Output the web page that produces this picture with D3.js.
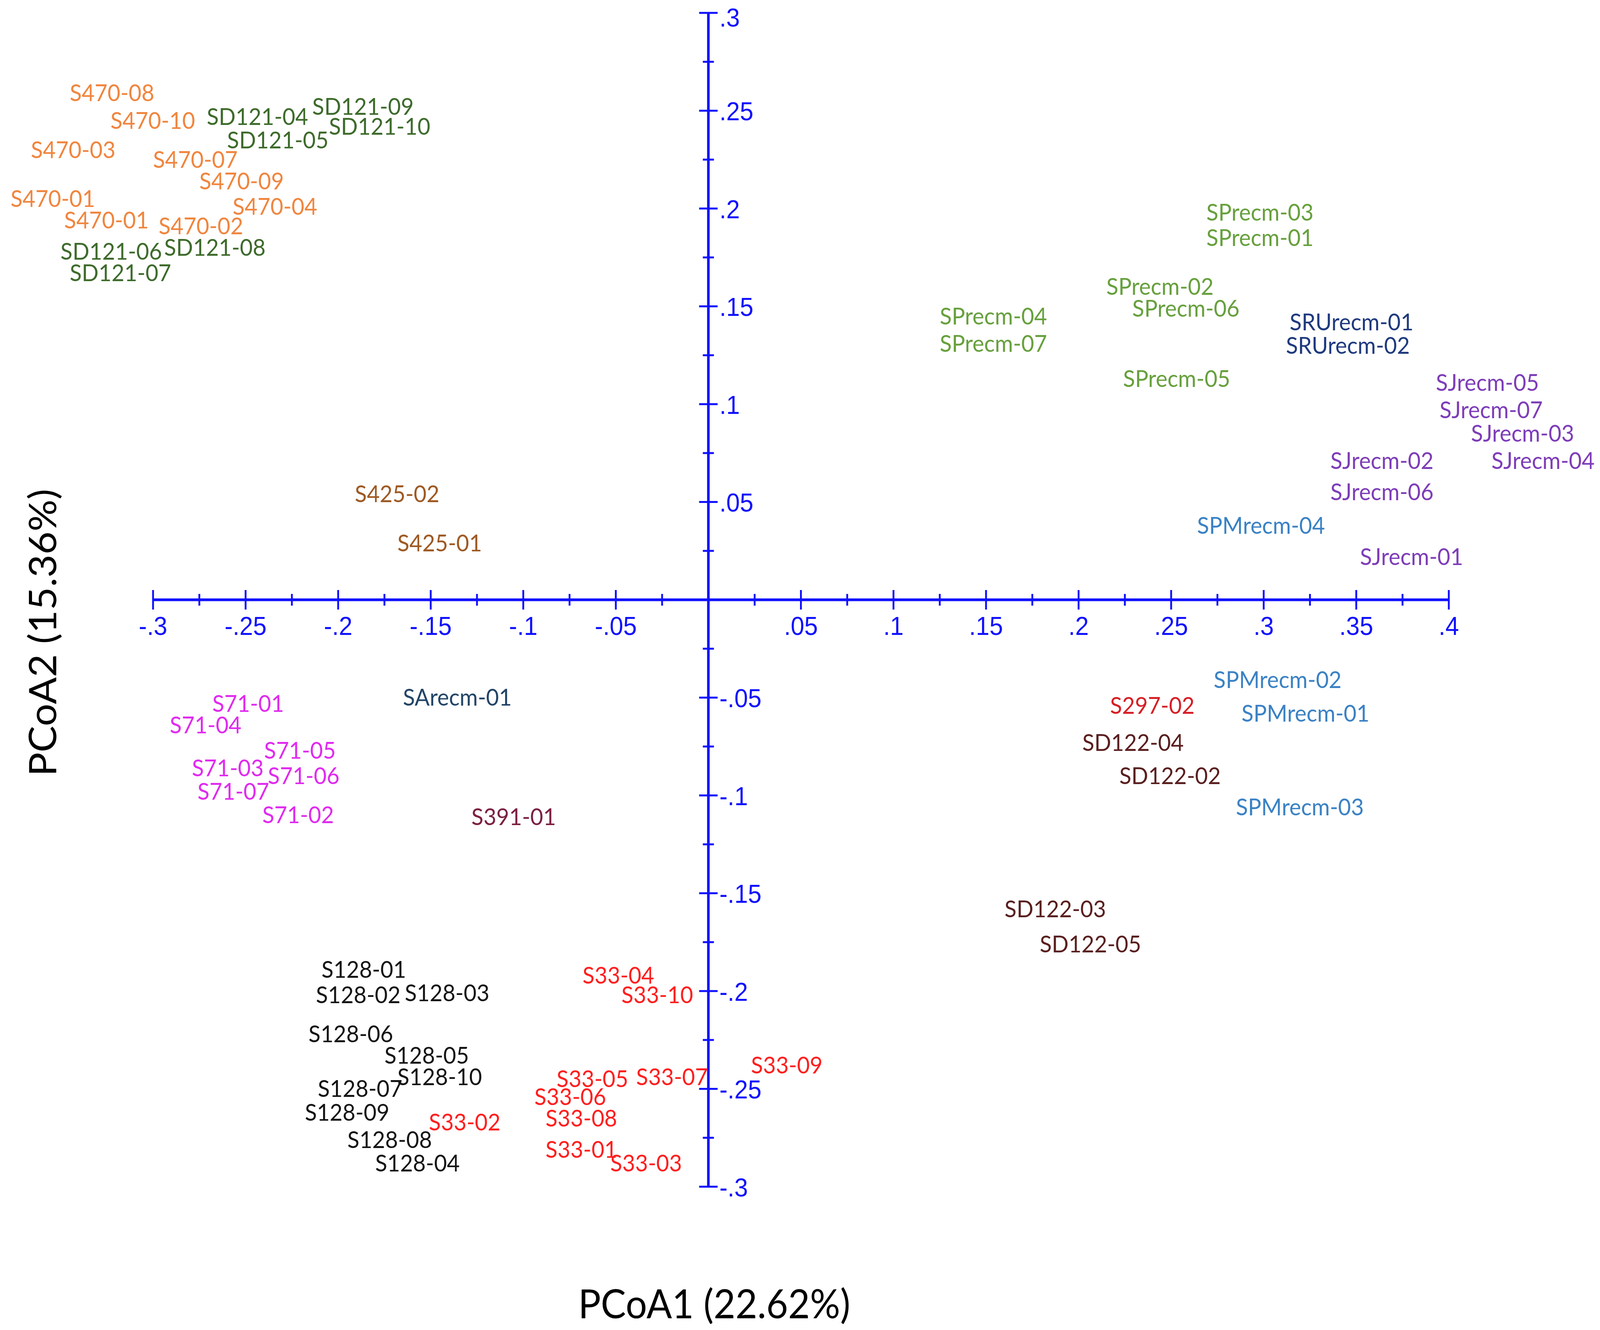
<!DOCTYPE html>
<html>
<head>
<meta charset="utf-8">
<script src="https://cdn.jsdelivr.net/npm/d3@7/dist/d3.min.js"></script>
<style>
  html, body { margin: 0; padding: 0; background: #fff; overflow: hidden; width: 100%; height: 100%; }
  svg { display: block; width: 100vw; height: 100vh; }
</style>
</head>
<body>
<svg id="chart" viewBox="0 0 4328 3406" preserveAspectRatio="none"></svg>
<script>
// ---------------- DATA ----------------
const sampleNames = [
  "S470-08","S470-10","S470-03","S470-07","S470-09","S470-01","S470-04","S470-01","S470-02",
  "SD121-04","SD121-09","SD121-10","SD121-05","SD121-06","SD121-08","SD121-07",
  "SPrecm-03","SPrecm-01","SPrecm-02","SPrecm-06","SPrecm-04","SPrecm-07","SPrecm-05",
  "SRUrecm-01","SRUrecm-02",
  "SJrecm-05","SJrecm-07","SJrecm-03","SJrecm-02","SJrecm-04","SJrecm-06","SJrecm-01",
  "SPMrecm-04","SPMrecm-02","SPMrecm-01","SPMrecm-03",
  "S425-02","S425-01",
  "SArecm-01",
  "S71-01","S71-04","S71-05","S71-03","S71-06","S71-07","S71-02",
  "S391-01",
  "S297-02",
  "SD122-04","SD122-02","SD122-03","SD122-05",
  "S128-01","S128-02","S128-03","S128-06","S128-05","S128-10","S128-07","S128-09","S128-08","S128-04",
  "S33-04","S33-10","S33-09","S33-07","S33-05","S33-06","S33-08","S33-02","S33-01","S33-03"
];
const sampleGroups = [
  "S470","S470","S470","S470","S470","S470","S470","S470","S470",
  "SD121","SD121","SD121","SD121","SD121","SD121","SD121",
  "SPrecm","SPrecm","SPrecm","SPrecm","SPrecm","SPrecm","SPrecm",
  "SRUrecm","SRUrecm",
  "SJrecm","SJrecm","SJrecm","SJrecm","SJrecm","SJrecm","SJrecm",
  "SPMrecm","SPMrecm","SPMrecm","SPMrecm",
  "S425","S425",
  "SArecm",
  "S71","S71","S71","S71","S71","S71","S71",
  "S391",
  "S297",
  "SD122","SD122","SD122","SD122",
  "S128","S128","S128","S128","S128","S128","S128","S128","S128","S128",
  "S33","S33","S33","S33","S33","S33","S33","S33","S33","S33"
];
const pcoa1 = [
  -0.345,-0.323,-0.366,-0.300,-0.275,-0.377,-0.257,-0.348,-0.297,
  -0.271,-0.214,-0.205,-0.260,-0.350,-0.294,-0.345,
  0.269,0.269,0.215,0.229,0.125,0.125,0.224,
  0.314,0.312,
  0.393,0.395,0.412,0.336,0.423,0.336,0.352,
  0.264,0.273,0.288,0.285,
  -0.191,-0.168,
  -0.165,
  -0.268,-0.291,-0.240,-0.279,-0.238,-0.276,-0.241,
  -0.128,
  0.217,
  0.202,0.222,0.160,0.179,
  -0.209,-0.212,-0.164,-0.216,-0.175,-0.168,-0.211,-0.218,-0.195,-0.180,
  -0.068,-0.047,0.023,-0.039,-0.082,-0.094,-0.088,-0.151,-0.088,-0.053
];
const pcoa2 = [
  0.259,0.245,0.230,0.225,0.214,0.205,0.201,0.194,0.191,
  0.247,0.252,0.242,0.235,0.178,0.180,0.167,
  0.198,0.185,0.160,0.149,0.145,0.131,0.113,
  0.142,0.130,
  0.111,0.097,0.085,0.071,0.071,0.055,0.022,
  0.038,-0.041,-0.058,-0.106,
  0.054,0.029,
  -0.050,
  -0.053,-0.064,-0.077,-0.086,-0.090,-0.098,-0.110,
  -0.111,
  -0.054,
  -0.073,-0.090,-0.158,-0.176,
  -0.189,-0.202,-0.201,-0.222,-0.233,-0.244,-0.250,-0.262,-0.276,-0.288,
  -0.192,-0.202,-0.238,-0.244,-0.245,-0.254,-0.265,-0.267,-0.281,-0.288
];
const xMajorTicks = [-0.3,-0.25,-0.2,-0.15,-0.1,-0.05,0,0.05,0.1,0.15,0.2,0.25,0.3,0.35,0.4];
const xTickLabels = ["-.3","-.25","-.2","-.15","-.1","-.05","",".05",".1",".15",".2",".25",".3",".35",".4"];
const xMinorTicks = [-0.275,-0.225,-0.175,-0.125,-0.075,-0.025,0.025,0.075,0.125,0.175,0.225,0.275,0.325,0.375];
const yMajorTicks = [0.3,0.25,0.2,0.15,0.1,0.05,-0.05,-0.1,-0.15,-0.2,-0.25,-0.3];
const yTickLabels = [".3",".25",".2",".15",".1",".05","-.05","-.1","-.15","-.2","-.25","-.3"];
const yMinorTicks = [0.275,0.225,0.175,0.125,0.075,0.025,-0.025,-0.075,-0.125,-0.175,-0.225,-0.275];
const xTitle = "PCoA1 (22.62%)";
const yTitle = "PCoA2 (15.36%)";

// ---------------- STYLES ----------------
const groupColors = {
  "S470":"#F0863F","SD121":"#3E6B2C","SPrecm":"#67A03D","SRUrecm":"#1F3A7E",
  "SJrecm":"#7E3DB8","SPMrecm":"#3B82C4","S425":"#9E5A24","SArecm":"#234567",
  "S71":"#E02BEF","S391":"#7B2142","S297":"#D61F26","SD122":"#5A1F1F",
  "S128":"#141414","S33":"#FF1F1F"
};
const AXIS = "#1010ff";

const svg = d3.select("#chart");
const x = d3.scaleLinear().domain([-0.3, 0.4]).range([414, 3919]);
const y = d3.scaleLinear().domain([-0.3, 0.3]).range([3039, 33]);

// ---- horizontal axis (through y=0) ----
const xAxisG = svg.append("g").attr("transform", `translate(0,${y(0)})`);
xAxisG.append("line").attr("x1", x(-0.3)).attr("x2", x(0.4))
  .attr("stroke", AXIS).attr("stroke-width", 7);
xAxisG.selectAll(".xmaj").data(xMajorTicks).join("line")
  .attr("x1", d => x(d)).attr("x2", d => x(d)).attr("y1", -25).attr("y2", 25)
  .attr("stroke", AXIS).attr("stroke-width", 5);
xAxisG.selectAll(".xmin").data(xMinorTicks).join("line")
  .attr("x1", d => x(d)).attr("x2", d => x(d)).attr("y1", -15).attr("y2", 15)
  .attr("stroke", AXIS).attr("stroke-width", 5);
xAxisG.selectAll(".xlab").data(xMajorTicks).join("text")
  .attr("x", d => x(d)).attr("y", 90)
  .attr("text-anchor", "middle")
  .attr("font-family", "Liberation Sans, Arial, sans-serif")
  .attr("font-size", 66).attr("fill", AXIS)
  .text((d, i) => xTickLabels[i]);

// ---- vertical axis (through x=0) ----
const yAxisG = svg.append("g").attr("transform", `translate(${x(0)},0)`);
yAxisG.append("line").attr("y1", y(0.3)).attr("y2", y(-0.3))
  .attr("stroke", AXIS).attr("stroke-width", 7);
yAxisG.selectAll(".ymaj").data(yMajorTicks).join("line")
  .attr("y1", d => y(d)).attr("y2", d => y(d)).attr("x1", -25).attr("x2", 25)
  .attr("stroke", AXIS).attr("stroke-width", 5);
yAxisG.selectAll(".ymin").data(yMinorTicks).join("line")
  .attr("y1", d => y(d)).attr("y2", d => y(d)).attr("x1", -15).attr("x2", 15)
  .attr("stroke", AXIS).attr("stroke-width", 5);
yAxisG.selectAll(".ylab").data(yMajorTicks).join("text")
  .attr("x", 30).attr("y", d => Math.max(y(d) + 25, 68))
  .attr("text-anchor", "start")
  .attr("font-family", "Liberation Sans, Arial, sans-serif")
  .attr("font-size", 66).attr("fill", AXIS)
  .text((d, i) => yTickLabels[i]);

// ---- sample labels ----
const samples = sampleNames.map((n, i) => ({ name: n, group: sampleGroups[i], px: pcoa1[i], py: pcoa2[i] }));
svg.append("g").selectAll("text").data(samples).join("text")
  .attr("x", d => x(d.px)).attr("y", d => y(d.py))
  .attr("dy", "0.35em")
  .attr("font-family", "Lato, 'Open Sans', sans-serif")
  .attr("font-size", 60)
  .attr("fill", d => groupColors[d.group])
  .text(d => d.name);

// ---- axis titles ----
svg.append("text").attr("x", 1932).attr("y", 3376)
  .attr("text-anchor", "middle")
  .attr("font-family", "Lato, sans-serif").attr("font-size", 102).attr("fill", "#000")
  .text(xTitle);
svg.append("text")
  .attr("transform", `translate(152,1620) rotate(-90)`)
  .attr("text-anchor", "middle")
  .attr("font-family", "Lato, sans-serif").attr("font-size", 102).attr("fill", "#000")
  .text(yTitle);
</script>
</body>
</html>
